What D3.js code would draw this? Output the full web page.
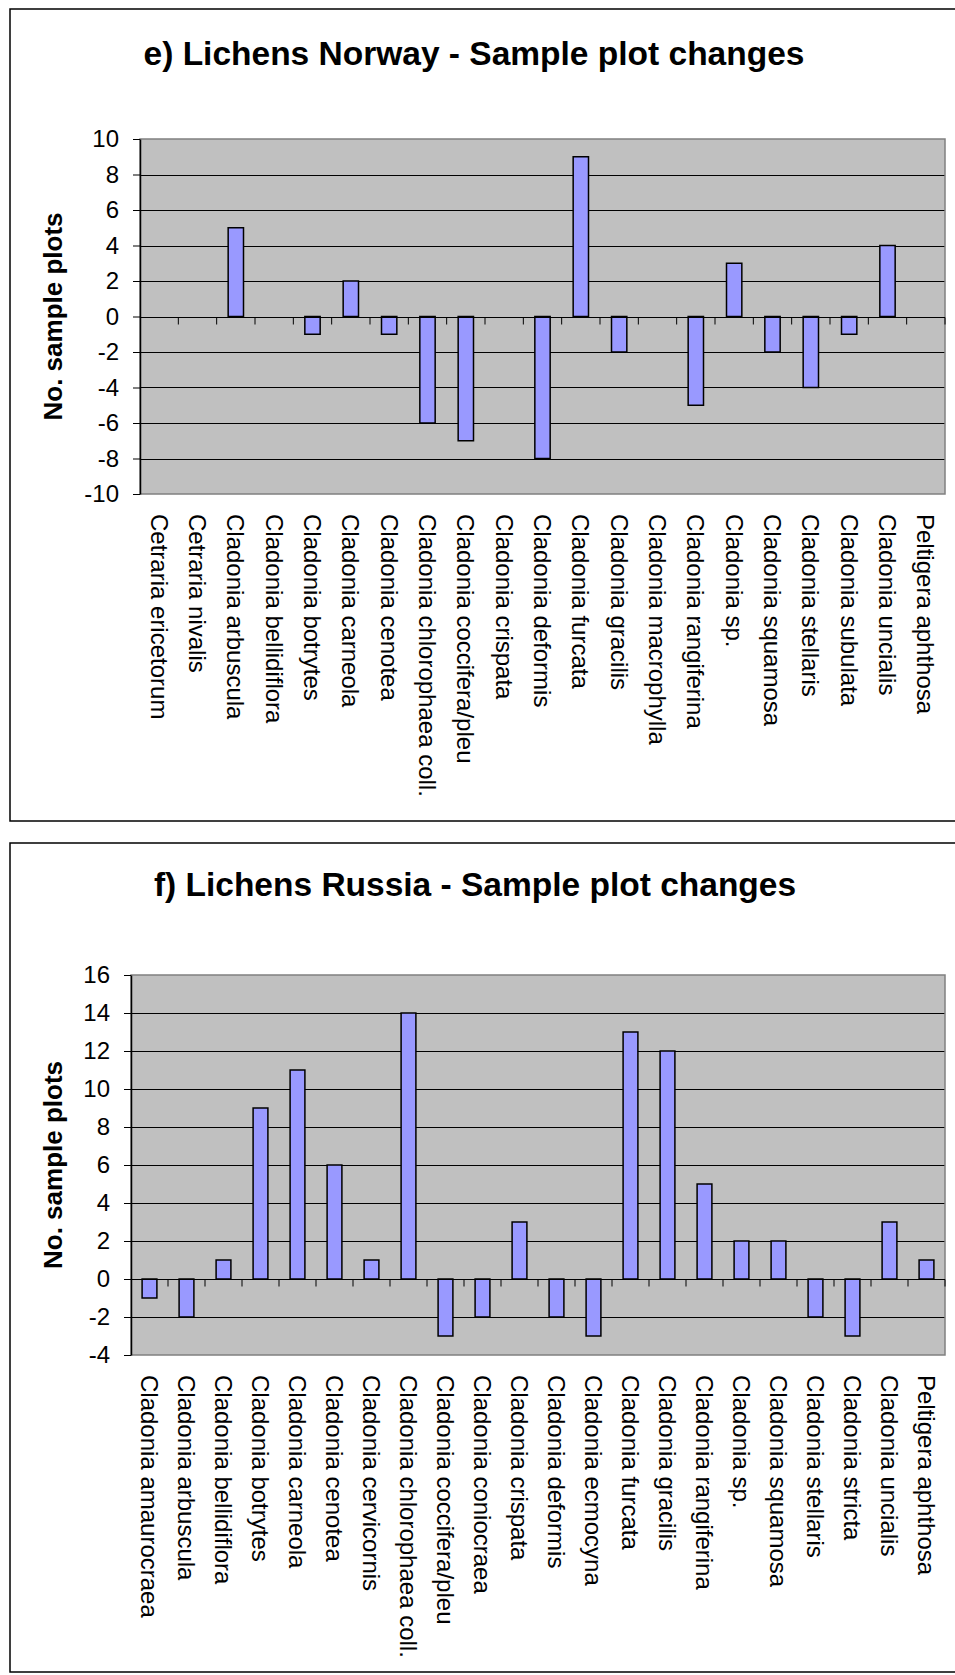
<!DOCTYPE html>
<html>
<head>
<meta charset="utf-8">
<script src="https://cdn.jsdelivr.net/npm/d3@7"></script>
<style>
  body { margin: 0; background: #fff; }
  svg { display: block; font-family: Arial, "Liberation Sans", sans-serif; }
</style>
</head>
<body>
<svg width="955" height="1675"></svg>
<script>
// Norway panel
const norwayCategories = [
  "Cetraria ericetorum", "Cetraria nivalis", "Cladonia arbuscula", "Cladonia bellidiflora",
  "Cladonia botrytes", "Cladonia carneola", "Cladonia cenotea", "Cladonia chlorophaea coll.",
  "Cladonia coccifera/pleu", "Cladonia crispata", "Cladonia deformis", "Cladonia furcata",
  "Cladonia gracilis", "Cladonia macrophylla", "Cladonia rangiferina", "Cladonia sp.",
  "Cladonia squamosa", "Cladonia stellaris", "Cladonia subulata", "Cladonia uncialis",
  "Peltigera aphthosa"
];
const norwayValues = [0, 0, 5, 0, -1, 2, -1, -6, -7, 0, -8, 9, -2, 0, -5, 3, -2, -4, -1, 4, 0];
const norwayTicks = [-10, -8, -6, -4, -2, 0, 2, 4, 6, 8, 10];

// Russia panel
const russiaCategories = [
  "Cladonia amaurocraea", "Cladonia arbuscula", "Cladonia bellidiflora", "Cladonia botrytes",
  "Cladonia carneola", "Cladonia cenotea", "Cladonia cervicornis", "Cladonia chlorophaea coll.",
  "Cladonia coccifera/pleu", "Cladonia coniocraea", "Cladonia crispata", "Cladonia deformis",
  "Cladonia ecmocyna", "Cladonia furcata", "Cladonia gracilis", "Cladonia rangiferina",
  "Cladonia sp.", "Cladonia squamosa", "Cladonia stellaris", "Cladonia stricta",
  "Cladonia uncialis", "Peltigera aphthosa"
];
const russiaValues = [-1, -2, 1, 9, 11, 6, 1, 14, -3, -2, 3, -2, -3, 13, 12, 5, 2, 2, -2, -3, 3, 1];
const russiaTicks = [-4, -2, 0, 2, 4, 6, 8, 10, 12, 14, 16];

const svg = d3.select("svg");

function drawPanel(p) {
  const g = svg.append("g");

  // outer frame
  g.append("rect")
    .attr("x", p.frame[0]).attr("y", p.frame[1])
    .attr("width", p.frame[2] - p.frame[0]).attr("height", p.frame[3] - p.frame[1])
    .attr("fill", "#fff").attr("stroke", "#000").attr("stroke-width", 1.5);

  const x = d3.scaleBand().domain(p.categories).range([p.left, p.right]).paddingInner(0).paddingOuter(0);
  const y = d3.scaleLinear().domain(d3.extent(p.ticks)).range([p.bottom, p.top]);

  // plot area
  g.append("rect")
    .attr("x", p.left).attr("y", p.top)
    .attr("width", p.right - p.left).attr("height", p.bottom - p.top)
    .attr("fill", "#c0c0c0");

  // gridlines
  g.selectAll(".grid")
    .data(p.ticks.slice(1, -1))
    .enter().append("line")
    .attr("x1", p.left).attr("x2", p.right)
    .attr("y1", d => Math.round(y(d)) + 0.5).attr("y2", d => Math.round(y(d)) + 0.5)
    .attr("stroke", "#000").attr("stroke-width", 1);

  // plot border
  g.append("rect")
    .attr("x", p.left).attr("y", p.top)
    .attr("width", p.right - p.left).attr("height", p.bottom - p.top)
    .attr("fill", "none").attr("stroke", "#808080").attr("stroke-width", 1.5);

  // bars
  const bw = x.bandwidth() * 0.4;
  g.selectAll(".bar")
    .data(p.values.map((v, i) => ({ cat: p.categories[i], v })).filter(d => d.v !== 0))
    .enter().append("rect")
    .attr("x", d => x(d.cat) + (x.bandwidth() - bw) / 2)
    .attr("y", d => y(Math.max(0, d.v)))
    .attr("width", bw)
    .attr("height", d => Math.abs(y(d.v) - y(0)))
    .attr("fill", "#9999ff").attr("stroke", "#000").attr("stroke-width", 1.5);

  // category axis at zero
  const zeroY = Math.round(y(0)) + 0.5;
  g.append("line")
    .attr("x1", p.left).attr("x2", p.right)
    .attr("y1", zeroY).attr("y2", zeroY)
    .attr("stroke", "#000").attr("stroke-width", 1);
  g.selectAll(".xtick")
    .data(p.categories.slice(1).concat(["__end"]))
    .enter().append("line")
    .attr("x1", d => d === "__end" ? p.right : x(d))
    .attr("x2", d => d === "__end" ? p.right : x(d))
    .attr("y1", zeroY).attr("y2", zeroY + 7)
    .attr("stroke", "#000").attr("stroke-width", 1);

  // value axis (plain hyphen for negatives, like the original)
  const yAxis = g.append("g")
    .attr("transform", `translate(${p.left},0)`)
    .call(d3.axisLeft(y).tickValues(p.ticks).tickFormat(d => String(d))
      .tickSize(7).tickSizeOuter(0).tickPadding(14));
  yAxis.select(".domain").attr("stroke", "#000").attr("stroke-width", 1.5);
  yAxis.selectAll(".tick line").attr("stroke", "#000");
  yAxis.selectAll(".tick text")
    .attr("fill", "#000")
    .style("font-size", "24px")
    .style("font-family", "Arial, 'Liberation Sans', sans-serif");

  // category labels
  g.selectAll(".cat")
    .data(p.categories)
    .enter().append("text")
    .attr("transform", d => `translate(${x(d) + x.bandwidth() / 2},${p.bottom + 20}) rotate(90)`)
    .attr("dy", "0.35em")
    .attr("text-anchor", "start")
    .style("font-size", "24px")
    .text(d => d);

  // y axis title
  g.append("text")
    .attr("transform", `translate(62,${(p.top + p.bottom) / 2}) rotate(-90)`)
    .attr("text-anchor", "middle")
    .style("font-size", "26px")
    .style("font-weight", "bold")
    .text("No. sample plots");

  // chart title
  g.append("text")
    .attr("x", p.titleX).attr("y", p.titleY)
    .attr("text-anchor", "middle")
    .style("font-size", "33.5px")
    .style("font-weight", "bold")
    .text(p.title);
}

drawPanel({
  title: "e) Lichens Norway - Sample plot changes",
  categories: norwayCategories, values: norwayValues, ticks: norwayTicks,
  frame: [10, 9, 965, 821],
  left: 140, right: 945, top: 139, bottom: 494,
  titleX: 474, titleY: 65
});

drawPanel({
  title: "f) Lichens Russia - Sample plot changes",
  categories: russiaCategories, values: russiaValues, ticks: russiaTicks,
  frame: [10, 843, 965, 1672],
  left: 131, right: 945, top: 975, bottom: 1355,
  titleX: 475, titleY: 896
});
</script>
</body>
</html>
